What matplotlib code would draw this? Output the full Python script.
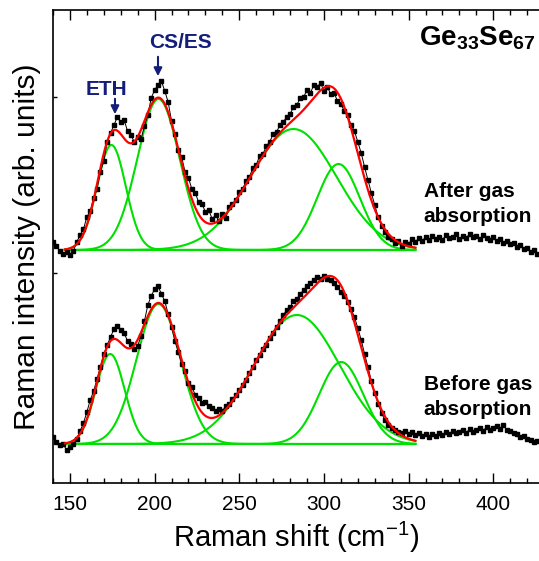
import matplotlib.pyplot as plt
import numpy as np

plt.rcParams['font.family'] = ['Liberation Sans', 'DejaVu Sans']
plt.rcParams['mathtext.fontset'] = 'custom'
plt.rcParams['mathtext.rm'] = 'Liberation Sans'
plt.rcParams['mathtext.bf'] = 'Liberation Sans:bold'

###########################
# Données (unités arbitraires)
###########################

shift = np.arange(140, 427, 2)  # cm-1, pas de 2

after = [241, 237, 232, 229, 231, 228, 232, 241, 248, 254,
         266, 272, 285, 294, 311, 322, 341, 350, 358, 366,
         361, 363, 352, 348, 341, 346, 344, 357, 368, 385,
         393, 398, 402, 392, 381, 362, 349, 333, 326, 311,
         305, 294, 290, 281, 279, 271, 273, 264, 268, 262,
         269, 265, 276, 279, 283, 291, 294, 302, 306, 315,
         318, 327, 329, 337, 341, 349, 351, 358, 361, 366,
         369, 376, 378, 385, 386, 393, 390, 398, 396, 400,
         392, 396, 389, 390, 382, 379, 372, 368, 358, 352,
         341, 330, 316, 303, 290, 278, 266, 257, 251, 246,
         244, 240, 242, 237, 241, 239, 244, 241, 245, 242,
         246, 243, 247, 244, 246, 243, 248, 245, 246, 249,
         244, 247, 245, 249, 246, 247, 244, 248, 245, 243,
         246, 242, 244, 240, 242, 239, 240, 236, 238, 234,
         235, 231, 233, 229]

before = [46, 41, 38, 39, 33, 36, 39, 44, 52, 60,
          71, 83, 92, 104, 116, 129, 138, 146, 154, 157,
          153, 150, 142, 139, 134, 137, 147, 162, 178, 187,
          194, 197, 189, 182, 169, 156, 142, 131, 119, 112,
          100, 96, 88, 85, 80, 81, 77, 75, 72, 74,
          72, 77, 79, 84, 88, 93, 98, 103, 110, 116,
          123, 128, 134, 138, 145, 150, 156, 162, 168, 173,
          176, 182, 184, 189, 193, 197, 200, 203, 206, 204,
          207, 204, 203, 200, 196, 191, 187, 181, 174, 166,
          155, 143, 129, 116, 102, 90, 79, 70, 63, 58,
          55, 53, 51, 50, 52, 49, 51, 48, 50, 47,
          49, 46, 49, 47, 50, 48, 51, 49, 52, 50,
          51, 53, 50, 54, 51, 53, 55, 52, 56, 53,
          55, 57, 54, 58, 53, 52, 50, 49, 46, 47,
          44, 43, 41, 42]

# Décomposition en gaussiennes : (centre, sigma, hauteur)
baseline_after = 233
peaks_after = [(174.5, 8.5, 105), (202.3, 12.5, 151), (282.0, 25.4, 121), (308.6, 12.6, 86)]
baseline_before = 39
peaks_before = [(173.8, 8.5, 90), (202.3, 13.0, 140), (284.0, 25.5, 129), (310.2, 13.0, 82)]
fit_range = (147, 354)

navy = '#141e7a'
green = '#00e000'

###########################
# Figure
###########################

fig = plt.figure(figsize=(5.39, 5.61), dpi=100)
ax = fig.add_axes([53 / 539, 1 - 483 / 561, 1 - 53 / 539, 473 / 561])

xf = np.linspace(fit_range[0], fit_range[1], 500)

for data, base, peaks in [(after, baseline_after, peaks_after), (before, baseline_before, peaks_before)]:
    ax.plot(shift, data, '-', color='black', lw=0.7, marker='s', ms=2.6, zorder=2)
    total = np.full_like(xf, base, dtype=float)
    for c, s, h in peaks:
        g = h * np.exp(-(xf - c) ** 2 / (2 * s ** 2))
        ax.plot(xf, base + g, color=green, lw=1.5, zorder=1)
        total += g
    ax.plot(xf, np.full_like(xf, base), color=green, lw=1.5, zorder=1)
    ax.plot(xf, total, color='red', lw=1.6, zorder=3)

# Annotations
ax.text(171.3, 388, 'ETH', color=navy, fontsize=15, fontweight='bold', ha='center', va='baseline')
ax.annotate('', xy=(176.6, 366), xytext=(176.6, 387),
            arrowprops=dict(arrowstyle='-|>', color=navy, lw=1.5, mutation_scale=12))
ax.text(215, 435, 'CS/ES', color=navy, fontsize=15, fontweight='bold', ha='center', va='baseline')
ax.annotate('', xy=(202, 404), xytext=(202, 429),
            arrowprops=dict(arrowstyle='-|>', color=navy, lw=1.5, mutation_scale=12))

ax.text(425, 438, r'$\mathbf{Ge_{33}Se_{67}}$', fontsize=20, ha='right', va='baseline')

ax.text(358.8, 286, 'After gas', fontsize=15, fontweight='bold', ha='left', va='baseline')
ax.text(358.8, 261, 'absorption', fontsize=15, fontweight='bold', ha='left', va='baseline')
ax.text(358.8, 93, 'Before gas', fontsize=15, fontweight='bold', ha='left', va='baseline')
ax.text(358.8, 68, 'absorption', fontsize=15, fontweight='bold', ha='left', va='baseline')

ax.set_xlim(140, 427)
ax.set_ylim(0, 473)
ax.set_xticks([150, 200, 250, 300, 350, 400])
ax.set_xticks(np.arange(140, 427, 10), minor=True)
ax.set_yticks([210, 386])
ax.set_yticklabels([])
ax.tick_params(axis='x', which='major', direction='in', top=True, length=7, width=1, labelsize=15, pad=9)
ax.tick_params(axis='x', which='minor', direction='in', top=True, length=3.5, width=1)
ax.tick_params(axis='y', which='major', direction='in', length=3, width=1)
ax.spines['right'].set_visible(False)
for sp in ['left', 'top', 'bottom']:
    ax.spines[sp].set_linewidth(1.2)

ax.set_xlabel('Raman shift (cm$^{-1}$)', fontsize=21, labelpad=4)
ax.set_ylabel('Raman intensity (arb. units)', fontsize=21.5, labelpad=5)

fig.savefig('out.png', dpi=100)
